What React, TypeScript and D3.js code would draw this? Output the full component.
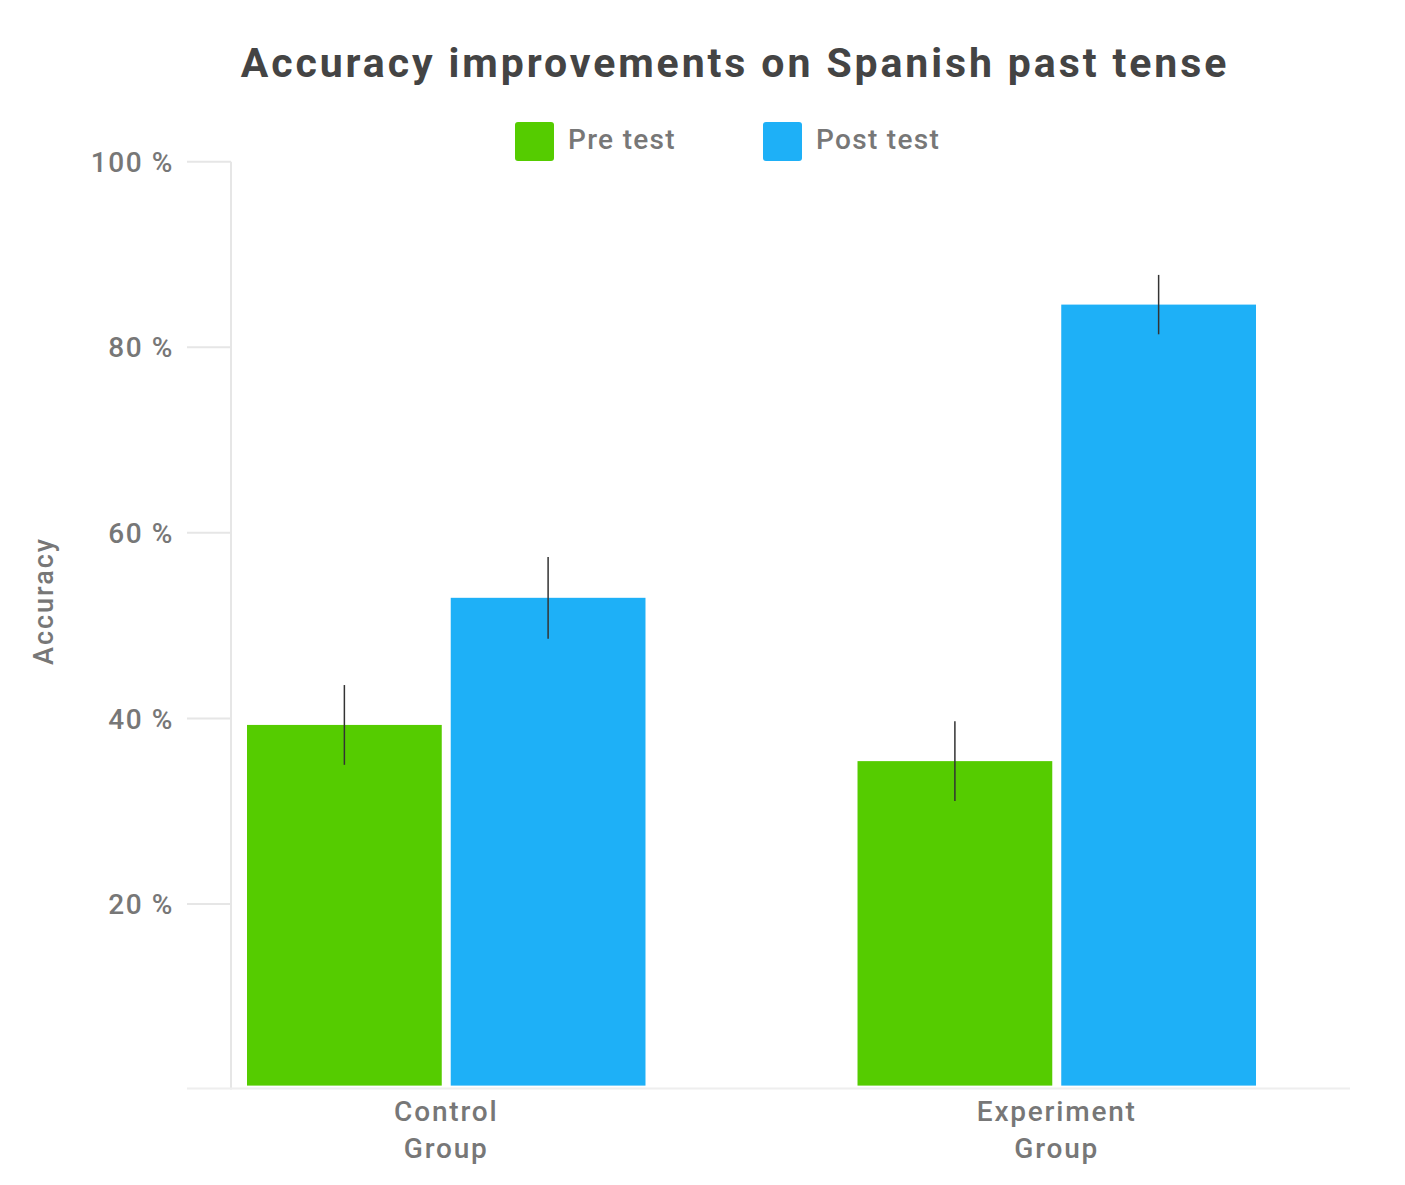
import React from 'react';
import * as d3 from 'd3';

// Chart data
const groups = ['Control Group', 'Experiment Group'];
const groupLines = [['Control', 'Group'], ['Experiment', 'Group']];
const series = ['Pre test', 'Post test'];
const preValues = [39.3, 35.4];
const postValues = [53.0, 84.6];
const preErrors = [4.3, 4.3];
const postErrors = [4.4, 3.2];
const yTicks = [20, 40, 60, 80, 100];

const colors = ['#55cc00', '#1eb0f7'];
const FONT = 'Roboto, "Open Sans", sans-serif';

const App = () => {
  const width = 1405;
  const height = 1185;

  const y = d3.scaleLinear().domain([0, 100]).range([1089.6, 161.7]);

  const x0 = d3.scaleBand()
    .domain(groups)
    .range([247, 1256])
    .paddingInner(0.3473)
    .paddingOuter(0);

  const x1 = d3.scaleBand()
    .domain(series)
    .range([0, x0.bandwidth()])
    .paddingInner(0.0441)
    .paddingOuter(0);

  const color = d3.scaleOrdinal<string, string>().domain(series).range(colors);

  const rows = groups.flatMap((g, i) => [
    { group: g, key: series[0], value: preValues[i], err: preErrors[i] },
    { group: g, key: series[1], value: postValues[i], err: postErrors[i] }
  ]);

  const axisX = 231;
  const axisRight = 1350;
  const tickLeft = 187;
  const gap = 4; // bars stop just above the baseline

  return (
    <div style={{ position: 'absolute', left: 0, top: 0 }}>
      <svg width={width} height={height} viewBox={`0 0 ${width} ${height}`}
        style={{ display: 'block', background: '#fff', fontFamily: FONT }}>
        {/* Title */}
        <text x={735} y={77} textAnchor="middle" fontSize={41} fontWeight={700} fill="#444"
          letterSpacing={2.9}>
          Accuracy improvements on Spanish past tense
        </text>

        {/* Legend */}
        {series.map((s, i) => {
          const lx = i === 0 ? 515 : 763;
          return (
            <g key={s}>
              <rect x={lx} y={122} width={39} height={39} rx={3} fill={color(s)} />
              <text x={lx + 53} y={149} fontSize={28} fontWeight={500} fill="#777" letterSpacing={1.3}>{s}</text>
            </g>
          );
        })}

        {/* Y axis */}
        <line x1={axisX} x2={axisX} y1={y(100)} y2={y(0)} stroke="#e6e6e6" strokeWidth={2} />
        {yTicks.map(t => (
          <g key={t}>
            <line x1={tickLeft} x2={axisX} y1={y(t)} y2={y(t)} stroke="#e6e6e6" strokeWidth={2} />
            <text x={174} y={y(t)} dy="0.36em" textAnchor="end" fontSize={28} fontWeight={500} fill="#777"
              letterSpacing={1.6}>
              {`${t} %`}
            </text>
          </g>
        ))}
        <text transform={`translate(53,${601}) rotate(-90)`} textAnchor="middle" fontSize={27}
          fontWeight={500} fill="#777" letterSpacing={2}>
          Accuracy
        </text>

        {/* Bars */}
        {rows.map(d => {
          const bx = (x0(d.group) as number) + (x1(d.key) as number);
          return (
            <rect key={d.group + d.key} x={bx} y={y(d.value)} width={x1.bandwidth()}
              height={y(0) - y(d.value) - gap} fill={color(d.key)} />
          );
        })}

        {/* Error bars */}
        {rows.map(d => {
          const cx = (x0(d.group) as number) + (x1(d.key) as number) + x1.bandwidth() / 2;
          return (
            <line key={'e' + d.group + d.key} x1={cx} x2={cx} y1={y(d.value + d.err)} y2={y(d.value - d.err)}
              stroke="#333" strokeWidth={1.5} />
          );
        })}

        {/* X baseline */}
        <line x1={tickLeft} x2={axisRight} y1={y(0) - 1} y2={y(0) - 1} stroke="#eeeeee" strokeWidth={2} />

        {/* Category labels */}
        {groups.map((g, i) => {
          const cx = (x0(g) as number) + x0.bandwidth() / 2;
          return (
            <text key={g} textAnchor="middle" fontSize={28} fontWeight={500} fill="#777" letterSpacing={1.8}>
              {groupLines[i].map((line, j) => (
                <tspan key={line} x={cx} y={1121 + j * 37}>{line}</tspan>
              ))}
            </text>
          );
        })}
      </svg>
    </div>
  );
};

export default App;
